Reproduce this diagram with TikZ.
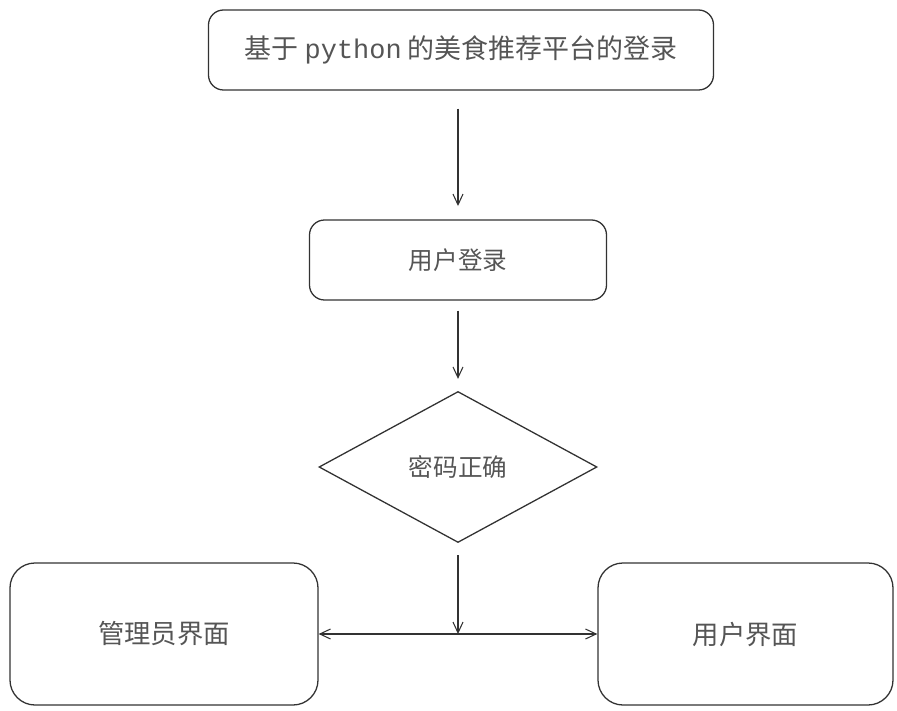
\documentclass[tikz,border=0pt]{standalone}
\usepackage{fontspec}
\usepackage{xcolor}
\usepackage{tikz}
\usetikzlibrary{shapes.geometric,arrows.meta,positioning}
\newfontfamily\cjk{Noto Sans CJK SC}
\setmonofont{Liberation Mono}
\definecolor{lineink}{RGB}{50,50,50}
\definecolor{textink}{RGB}{85,85,85}

\begin{document}
\begin{tikzpicture}[x=0.03cm,y=-0.03cm,
    flowbox/.style={draw=lineink, line width=1.1pt, rounded corners=0.45cm,
        text=textink, font=\cjk\fontsize{21}{25}\selectfont},
    endbox/.style={flowbox, rounded corners=0.75cm, minimum width=9cm, minimum height=4.26cm,
        font=\cjk\fontsize{22.5}{26}\selectfont},
    decision/.style={draw=lineink, line width=1.1pt, diamond, inner sep=0pt,
        minimum width=8.34cm, minimum height=4.53cm,
        text=textink, font=\cjk\fontsize{21}{25}\selectfont},
    flowarrow/.style={draw=lineink, line width=0.9pt, -{Straight Barb[length=0.32cm,width=0.3cm]}}]
    \useasboundingbox (0,0) rectangle (897,711);

    % Title box
    \node[flowbox, minimum width=15.15cm, minimum height=2.4cm, font=\cjk\fontsize{23}{27}\selectfont]
        (title) at (461,50) {基于 {\ttfamily python} 的美食推荐平台的登录};

    % Login step
    \node[flowbox, minimum width=8.91cm, minimum height=2.4cm] (login) at (458,260) {用户登录};

    % Password check
    \node[decision] (check) at (458,467) {密码正确};

    % Result screens
    \node[endbox, minimum width=9.24cm] (admin) at (164,634) {管理员界面};
    \node[endbox, minimum width=8.85cm] (user) at (745.5,634) {用户界面};
    \coordinate (fork) at (check |- admin);

    % Connections
    \draw[flowarrow, shorten <=0.54cm, shorten >=0.4cm] (title.south -| check) -- (login.north -| check);
    \draw[flowarrow, shorten <=0.3cm, shorten >=0.36cm] (login) -- (check);
    \draw[flowarrow, shorten <=0.36cm] (check.south) -- (fork);
    \draw[flowarrow] (fork) -- (admin.east);
    \draw[flowarrow] (fork) -- (user.west);
\end{tikzpicture}
\end{document}
